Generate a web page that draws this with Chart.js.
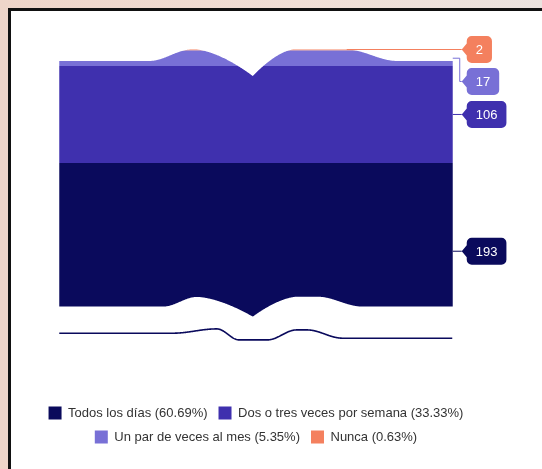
<!DOCTYPE html>
<html>
<head>
<meta charset="utf-8">
<script src="https://cdn.jsdelivr.net/npm/chart.js@4.4.1/dist/chart.umd.min.js"></script>
<style>
  html, body { margin: 0; padding: 0; }
  body {
    width: 542px; height: 469px; overflow: hidden; position: relative;
    background: linear-gradient(90deg, #eed5c9 0%, #f1dfd6 55%, #ebe3df 100%);
  }
  #frame {
    position: absolute; left: 8px; top: 8px; width: 560px; height: 480px;
    background: #fff; border-left: 3px solid #111; border-top: 3px solid #111;
  }
  #wrap { position: absolute; left: 11px; top: 11px; width: 531px; height: 458px; }
</style>
</head>
<body>
<div id="frame"></div>
<div id="wrap"><canvas id="chart"></canvas></div>
<script>
const categories = ['Todos los días', 'Dos o tres veces por semana', 'Un par de veces al mes', 'Nunca'];
const counts = [193, 106, 17, 2];
const colors = ['#0a0a5c', '#3f30ae', '#7870d6', '#f4805e'];

const total = counts.reduce((a, b) => a + b, 0);
const FONT = '"Liberation Sans", Arial, sans-serif';

// torn-paper edges: [dx from bar left, dy, easing to next point]
const topCut = [[0, 12.4, 'lin'], [89.5, 12.4, 'c'], [133, 0.9, 'lin'], [136, 0.9, 'in'],
  [193.5, 27.4, 'out'], [234.5, 0.9, 'lin'], [286.5, 0.9, 'c'], [338.5, 12.4, 'lin'], [400, 12.4]];
const gapTop = [[0, -32.9, 'lin'], [103.5, -32.9, 'c'], [138, -42.6, 'in'], [193.5, -22.9, 'out'],
  [237.5, -42.8, 'lin'], [258, -42.8, 'c'], [303.5, -32.9, 'lin'], [400, -32.9]];
const sliver = [[0, -6.3, 'lin'], [113.5, -6.3, 'c'], [157.5, -10.6, 'c'], [180, 0.4, 'lin'],
  [208, 0.4, 'c'], [237.5, -9.6, 'lin'], [247.5, -9.6, 'c'], [283.5, -1.3, 'lin'], [400, -1.3]];

function profile(pts, x) {
  if (x <= pts[0][0]) return pts[0][1];
  for (let i = 0; i < pts.length - 1; i++) {
    const [x0, y0, kind] = pts[i];
    const [x1, y1] = pts[i + 1];
    if (x <= x1) {
      let t = (x - x0) / (x1 - x0);
      if (kind === 'c') t = (1 - Math.cos(Math.PI * t)) / 2;
      else if (kind === 'in') t = Math.pow(t, 1.6);
      else if (kind === 'out') t = 1 - Math.pow(1 - t, 1.6);
      return y0 + (y1 - y0) * t;
    }
  }
  return pts[pts.length - 1][1];
}

function barBox(chart) {
  const first = chart.getDatasetMeta(0).data[0];
  const last = chart.getDatasetMeta(counts.length - 1).data[0];
  return {
    left: first.x - first.width / 2,
    right: first.x + first.width / 2,
    top: last.y,
    base: first.base
  };
}

const tornEdges = {
  id: 'tornEdges',
  afterDatasetsDraw(chart) {
    const ctx = chart.ctx;
    const b = barBox(chart);
    ctx.save();
    ctx.fillStyle = '#fff';

    ctx.beginPath();
    ctx.moveTo(b.left - 1, b.top - 6);
    for (let x = b.left - 1; x <= b.right + 1; x += 0.5) {
      ctx.lineTo(x, b.top + profile(topCut, x - b.left));
    }
    ctx.lineTo(b.right + 1, b.top - 6);
    ctx.closePath();
    ctx.fill();

    ctx.beginPath();
    ctx.moveTo(b.left - 1, b.base + 4);
    for (let x = b.left - 1; x <= b.right + 1; x += 0.5) {
      ctx.lineTo(x, b.base + profile(gapTop, x - b.left));
    }
    ctx.lineTo(b.right + 1, b.base + 4);
    ctx.closePath();
    ctx.fill();

    ctx.beginPath();
    for (let x = b.left; x <= b.right; x += 0.5) {
      const y = b.base + profile(sliver, x - b.left);
      if (x === b.left) ctx.moveTo(x, y); else ctx.lineTo(x, y);
    }
    ctx.strokeStyle = colors[0];
    ctx.lineWidth = 1.6;
    ctx.stroke();
    ctx.restore();
  }
};

const callouts = {
  id: 'callouts',
  afterDatasetsDraw(chart) {
    const ctx = chart.ctx;
    const b = barBox(chart);
    ctx.save();
    ctx.font = '13px ' + FONT;
    const items = counts.map((v, i) => {
      const bar = chart.getDatasetMeta(i).data[0];
      return { i, v, y: (bar.y + bar.base) / 2, bottom: bar.base };
    }).sort((a, c) => a.y - c.y);

    let prev = -Infinity;
    items.forEach(it => { it.ly = Math.max(it.y, prev + 32); prev = it.ly; });

    items.forEach(it => {
      const tipX = b.right + 9;
      const text = String(it.v);
      const w = ctx.measureText(text).width + 18, h = 27, r = 5;

      // start the leader where the segment is still visible
      let startX = b.right;
      if (b.top + profile(topCut, b.right - b.left) > it.bottom) {
        while (startX > b.left && b.top + profile(topCut, startX - b.left) > it.y) startX -= 1;
      }
      ctx.strokeStyle = colors[it.i];
      ctx.lineWidth = 1;
      ctx.beginPath();
      ctx.moveTo(startX, it.y);
      if (Math.abs(it.ly - it.y) > 0.5) {
        ctx.lineTo(tipX - 2, it.y);
        ctx.lineTo(tipX - 2, it.ly);
      }
      ctx.lineTo(tipX, it.ly);
      ctx.stroke();

      const bx = tipX + 5, by = it.ly - h / 2;
      ctx.fillStyle = colors[it.i];
      ctx.beginPath();
      ctx.moveTo(tipX, it.ly);
      ctx.lineTo(bx, it.ly - 6);
      ctx.lineTo(bx, by + r);
      ctx.arcTo(bx, by, bx + r, by, r);
      ctx.lineTo(bx + w - r, by);
      ctx.arcTo(bx + w, by, bx + w, by + r, r);
      ctx.lineTo(bx + w, by + h - r);
      ctx.arcTo(bx + w, by + h, bx + w - r, by + h, r);
      ctx.lineTo(bx + r, by + h);
      ctx.arcTo(bx, by + h, bx, by + h - r, r);
      ctx.lineTo(bx, it.ly + 6);
      ctx.closePath();
      ctx.fill();

      ctx.fillStyle = '#fff';
      ctx.textAlign = 'center';
      ctx.textBaseline = 'middle';
      ctx.fillText(text, bx + w / 2, it.ly + 1);
    });
    ctx.restore();
  }
};

new Chart(document.getElementById('chart'), {
  type: 'bar',
  data: {
    labels: [''],
    datasets: categories.map((name, i) => ({
      label: `${name} (${(counts[i] / total * 100).toFixed(2)}%)`,
      data: [counts[i]],
      backgroundColor: colors[i],
      borderWidth: 0,
      barPercentage: 0.803,
      categoryPercentage: 1
    }))
  },
  options: {
    responsive: true,
    maintainAspectRatio: false,
    animation: false,
    layout: { padding: { top: 37.6, right: 41, bottom: 15.5, left: 0 } },
    scales: {
      x: {
        stacked: true,
        ticks: { display: false },
        grid: { display: false },
        border: { display: false },
        afterFit(scale) { scale.height = 56; }
      },
      y: { stacked: true, display: false, min: 0, max: total }
    },
    plugins: {
      legend: {
        position: 'bottom',
        labels: {
          boxWidth: 13,
          boxHeight: 13,
          padding: 11,
          color: '#333',
          font: { size: 13, family: FONT }
        }
      },
      tooltip: { enabled: false }
    }
  },
  plugins: [tornEdges, callouts]
});
</script>
</body>
</html>
